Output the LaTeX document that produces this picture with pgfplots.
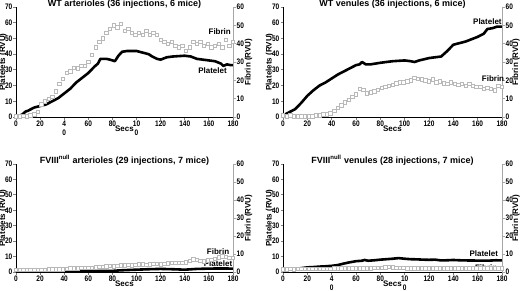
\documentclass[border=0pt]{standalone}
\usepackage{pgfplots}
\pgfplotsset{compat=1.18}
\usepackage{fontspec}
\setmainfont{Liberation Sans}
\newfontfamily\tickfont[FakeStretch=0.82]{Liberation Sans}
\tikzset{lab/.style={font=\bfseries\fontsize{8}{9}\selectfont}}
\pgfplotsset{
 every axis title shift=0pt,
 base/.style={scale only axis, xmin=0, xmax=180, tick align=outside,
   /pgf/number format/assume math mode=true,
   major tick length=2.5pt, tick style={line width=0.8pt},
   axis line style={line width=0.9pt},
   ticklabel style={font=\tickfont\bfseries\fontsize{8}{8.3}\selectfont},
   y tick label style={inner sep=1pt},
   label style={font=\bfseries\fontsize{8}{9}\selectfont},
   clip=false},
 leftax/.style={base, axis x line*=bottom, axis y line*=left, ymin=0, ymax=70,
   ytick={0,10,...,70}, xtick={0,20,...,180},
   xlabel={Secs},
   xlabel style={at={(axis description cs:0.5,0)}, anchor=north, yshift=-9pt, inner sep=0pt},
   title style={font=\bfseries\fontsize{9}{10}\selectfont, at={(0.5,1)}, anchor=base, yshift=0.3pt},
   x tick label style={align=center, inner sep=1.5pt}},
 rightax/.style={base, axis x line=none, axis y line*=right, ymin=0, ymax=60,
   ytick={0,10,...,60},
   y axis line style={gray!70, line width=0.9pt}, ytick style={gray!70, line width=0.8pt}},
 fib/.style={only marks, mark=square*, mark size=1.7pt, mark options={draw=gray!55, fill=white, line width=0.55pt}},
 plt/.style={black, line width=2.6pt, no marks, line join=round},
}
\begin{document}
\begin{tikzpicture}
\path[use as bounding box] (0,0) rectangle (520pt,290pt);
% ---------- Panel 1 ----------
\begin{axis}[leftax, at={(16pt,173pt)}, anchor=south west, width=217pt, height=110pt,
  title={WT arterioles (36 injections, 6 mice)},
  xticklabels={0,20,{4\\0},60,80,{10\\0},120,140,160,180}]
\addplot[plt] coordinates {(0,0) (5,1.5) (8,3.5) (10,4) (15,6) (20,7) (25,8) (30,10) (35,12) (40,15) (45,18) (50,22) (55,25) (60,28) (65,32) (68,34) (70,37) (75,37) (78,36.5) (82,35.5) (85,39) (88,41.5) (92,42) (100,42) (105,41) (110,40) (113,38.5) (117,37) (120,36.5) (125,38) (130,38.5) (140,39) (145,38.5) (150,37) (160,36) (165,35.5) (170,34) (172,32.5) (175,33.5) (178,33) (180,33)};
\end{axis}
\begin{axis}[rightax, at={(16pt,173pt)}, anchor=south west, width=217pt, height=110pt]
\addplot[fib] coordinates {(0,0.5) (3,0.5) (6,0.8) (9,0.5) (12,1) (15,1.5) (18,3) (21,7) (24,8.5) (27,10) (30,11) (33,14) (36,18) (39,21) (42,24) (45,25) (48,27) (51,26.5) (54,28) (57,28) (60,30) (63,34) (66,38) (69,41) (72,43) (75,46) (78,48) (81,50) (84,49) (87,51) (90,47) (93,48) (96,46) (99,45) (102,46) (105,45) (108,47) (111,45) (114,46) (117,45) (120,42) (123,41) (126,40) (129,41) (132,39) (135,38) (138,39) (141,36) (144,38) (147,41) (150,40) (153,41) (156,39) (159,40) (162,38) (165,39) (168,40) (171,38) (174,42) (177,39) (180,41)};
\node[lab] at (axis cs:169,46.3) {Fibrin};
\node[lab] at (axis cs:163,25.1) {Platelet};
\end{axis}
% ---------- Panel 2 ----------
\begin{axis}[leftax, at={(283pt,173pt)}, anchor=south west, width=219pt, height=110pt,
  title={WT venules (36 injections, 6 mice)}]
\addplot[plt] coordinates {(0,1) (5,3) (10,5) (15,9) (20,13.5) (25,17) (30,20) (35,22) (40,24.5) (45,27) (50,29) (55,31) (60,33) (63,33.5) (65,35) (68,33.5) (72,33.5) (80,34.5) (90,35.5) (100,36) (105,35.5) (108,35) (112,36) (120,37.5) (125,38) (130,38.5) (135,42) (140,46) (145,47) (150,48) (155,49.5) (160,51) (165,53) (168,56) (172,56.5) (176,57.5) (180,57.5)};
\end{axis}
\begin{axis}[rightax, at={(283pt,173pt)}, anchor=south west, width=219pt, height=110pt]
\addplot[fib] coordinates {(0,1) (3,0.5) (6,1) (9,0.5) (12,0.5) (15,0.5) (18,0.5) (21,0.5) (24,0.5) (27,1) (30,1) (33,1.5) (36,1.5) (39,2) (42,3.5) (45,5) (48,6.5) (51,8) (54,9.5) (57,11) (60,12.5) (63,15.5) (66,15) (69,13) (72,13.5) (75,14) (78,15) (81,16) (84,16.5) (87,17) (90,17.5) (93,18.5) (96,19) (99,19) (102,19.5) (105,20) (108,21.5) (111,21) (114,20.5) (117,20) (120,19.5) (123,20.5) (126,19) (129,19.5) (132,18.5) (135,18) (138,19) (141,18) (144,17.5) (147,18) (150,17) (153,18) (156,17) (159,16.5) (162,16.5) (165,15.5) (168,16) (171,15.5) (174,14.5) (177,17) (180,16.5)};
\node[lab] at (axis cs:168,51.9) {Platelet};
\node[lab] at (axis cs:172.6,20.7) {Fibrin};
\end{axis}
% ---------- Panel 3 ----------
\begin{axis}[leftax, at={(16pt,18pt)}, anchor=south west, width=217pt, height=108pt,
  title={FVIII\textsuperscript{null} arterioles (29 injections, 7 mice)}]
\addplot[plt] coordinates {(0,0.5) (40,0.5) (80,0.7) (85,1) (90,1.2) (100,1.5) (110,1.8) (120,2) (130,1.8) (140,1.5) (150,2) (160,2.2) (170,2.3) (180,2.2)};
\end{axis}
\begin{axis}[rightax, at={(16pt,18pt)}, anchor=south west, width=217pt, height=108pt]
\addplot[fib] coordinates {(0,1.2) (3,1.2) (6,1.3) (9,1.2) (12,1.3) (15,1.3) (18,1.4) (21,1.4) (24,1.4) (27,1.5) (30,1.5) (33,1.5) (36,1.5) (39,1.6) (42,1.8) (45,2) (48,2) (51,2.1) (54,2.2) (57,2.3) (60,2.5) (63,2.4) (66,2.6) (69,2.9) (72,3) (75,3.1) (78,3.3) (81,3.2) (84,3.4) (87,3.8) (90,3.7) (93,3.9) (96,3.8) (99,4) (102,4.3) (105,4.2) (108,4.1) (111,4.3) (114,4.5) (117,4.6) (120,4.4) (123,4.5) (126,4.8) (129,5) (132,5) (135,5) (138,5.2) (141,5.4) (144,6.3) (147,7) (150,6.8) (153,6.2) (156,6) (159,6.5) (162,6.8) (165,7.5) (168,8.2) (171,8.8) (174,8.5) (177,8) (180,8)};
\node[lab] at (axis cs:167.6,11.1) {Fibrin};
\node[lab] at (axis cs:167.6,4.5) {Platelet};
\end{axis}
% ---------- Panel 4 ----------
\begin{axis}[leftax, at={(283pt,18pt)}, anchor=south west, width=219pt, height=108pt,
  title={FVIII\textsuperscript{null} venules (28 injections, 7 mice)},
  xticklabels={0,20,{4\\0},60,80,{10\\0},120,140,160,180}]
\addplot[plt] coordinates {(0,1.5) (10,2) (15,2.5) (20,3) (25,3.2) (30,3.5) (35,3.7) (40,4) (45,4.5) (50,5.5) (55,6.3) (60,7) (65,7.3) (67,7.8) (70,7.3) (75,7.6) (80,8) (85,8.3) (90,8.6) (95,9) (100,8.6) (105,8.3) (110,8.2) (115,8) (120,7.9) (125,8) (130,7.5) (135,7.6) (140,7.8) (145,7.6) (150,7.5) (160,7.4) (170,7.4) (175,7.6) (180,7.5)};
\end{axis}
\begin{axis}[rightax, at={(283pt,18pt)}, anchor=south west, width=219pt, height=108pt]
\addplot[fib] coordinates {(0,1.6) (3,1.6) (6,1.7) (9,1.6) (12,1.7) (15,1.7) (18,1.8) (21,1.7) (24,1.8) (27,1.8) (30,1.8) (33,1.9) (36,1.8) (39,1.9) (42,2) (45,2) (48,2.1) (51,2) (54,2.1) (57,2) (60,2.1) (63,2) (66,2.1) (69,2) (72,2.1) (75,2.2) (78,2.2) (81,2.3) (84,2.6) (87,2.8) (90,2.7) (93,2.5) (96,2.3) (99,2.2) (102,2.1) (105,2.1) (108,2) (111,2.1) (114,2) (117,2) (120,2.1) (123,2) (126,2) (129,2.1) (132,2) (135,2) (138,2.1) (141,2) (144,2) (147,2) (150,2.1) (153,2) (156,2) (159,2) (162,2.1) (165,2) (168,2) (171,2) (174,2.1) (177,2) (180,2)};
\node[lab] at (axis cs:165,10) {Platelet};
\node[lab] at (axis cs:167,2.3) {Fibrin};
\end{axis}
% ---------- axis titles (Platelets / Fibrin) ----------
\node[lab, rotate=90, inner sep=0pt] at (3pt,228pt) {Platelets (RVU)};
\node[lab, rotate=90, inner sep=0pt] at (248.5pt,228pt) {Fibrin (RVU)};
\node[lab, rotate=90, inner sep=0pt] at (269.5pt,228pt) {Platelets (RVU)};
\node[lab, rotate=90, inner sep=0pt] at (516pt,228pt) {Fibrin (RVU)};
\node[lab, rotate=90, inner sep=0pt] at (3pt,72pt) {Platelets (RVU)};
\node[lab, rotate=90, inner sep=0pt] at (248.5pt,72pt) {Fibrin (RVU)};
\node[lab, rotate=90, inner sep=0pt] at (269.5pt,72pt) {Platelets (RVU)};
\node[lab, rotate=90, inner sep=0pt] at (516pt,72pt) {Fibrin (RVU)};
\end{tikzpicture}
\end{document}
